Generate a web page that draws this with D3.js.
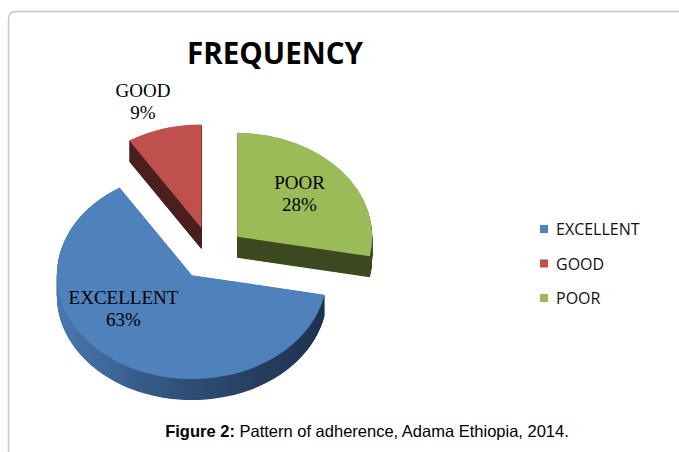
<!DOCTYPE html>
<html>
<head>
<meta charset="utf-8">
<script src="https://cdn.jsdelivr.net/npm/d3@7"></script>
<style>
  body { margin: 0; background: #fff; }
</style>
</head>
<body>
<svg width="679" height="452"></svg>
<script>
// chart data
let categories = ["EXCELLENT", "GOOD", "POOR"]
let percents = [63, 9, 28]
let topColors = ["#4f81bd", "#c0504d", "#9bbb59"]
let sideColors = ["url(#blueSide)", "#4b1f1e", "#3e4a22"]
let firstSliceAngle = 100.8   // degrees, Excel "angle of first slice"

let svg = d3.select("svg")

// frame of the figure box
svg.append("path")
  .attr("d", "M8.5,452 L8.5,19 Q8.5,11.5 16,11.5 L679,11.5")
  .attr("fill", "none")
  .attr("stroke", "#c6c6c6")
  .attr("stroke-width", 1.5)

let defs = svg.append("defs")
let grad = defs.append("linearGradient")
  .attr("id", "blueSide")
  .attr("gradientUnits", "userSpaceOnUse")
  .attr("x1", -135).attr("x2", 135).attr("y1", 0).attr("y2", 0)
grad.append("stop").attr("offset", "0%").attr("stop-color", "#4a77b0")
grad.append("stop").attr("offset", "45%").attr("stop-color", "#2f5079")
grad.append("stop").attr("offset", "100%").attr("stop-color", "#1c304d")

// pie geometry
let cx = 211, cy = 253.5
let rx = 135, tilt = 0.77, depth = 21, explode = 34

let data = categories.map((c, i) => ({name: c, value: percents[i], i: i}))
let start = firstSliceAngle * Math.PI / 180
let pie = d3.pie().sort(null).value(d => d.value)
  .startAngle(start).endAngle(start + 2 * Math.PI)
let arcs = pie(data)
let arc = d3.arc().innerRadius(0).outerRadius(rx)

// back slices first
let order = [1, 2, 0]
order.forEach((idx) => {
  let a = arcs[idx]
  let mid = (a.startAngle + a.endAngle) / 2
  let dx = Math.sin(mid) * explode
  let dy = -Math.cos(mid) * explode * tilt
  let g = svg.append("g")
    .attr("transform", "translate(" + (cx + dx) + "," + (cy + dy) + ")")

  // extruded side: stacked copies of the slice
  for (let t = depth; t > 0; t -= 0.5) {
    g.append("path")
      .attr("d", arc(a))
      .attr("transform", "translate(0," + t + ") scale(1," + tilt + ")")
      .attr("fill", sideColors[idx])
  }
  g.append("path")
    .attr("d", arc(a))
    .attr("transform", "scale(1," + tilt + ")")
    .attr("fill", topColors[idx])
})

// slice labels
let labelPos = {EXCELLENT: [123.5, 304], GOOD: [143, 97], POOR: [299.5, 189]}
arcs.forEach((a) => {
  let p = labelPos[a.data.name]
  let t = svg.append("text")
    .attr("text-anchor", "middle")
    .attr("font-family", "Liberation Serif, Times New Roman, serif")
    .attr("font-size", "19px")
    .attr("fill", "#000")
  t.append("tspan").attr("x", p[0]).attr("y", p[1]).text(a.data.name)
  t.append("tspan").attr("x", p[0]).attr("y", p[1] + 21.5).text(a.data.value + "%")
})

// title
svg.append("text")
  .attr("x", 187)
  .attr("y", 64)
  .attr("font-family", "Open Sans, sans-serif")
  .attr("font-weight", "bold")
  .attr("font-size", "31px")
  .attr("textLength", 176)
  .attr("lengthAdjust", "spacingAndGlyphs")
  .text("FREQUENCY")

// legend
let legend = svg.append("g").attr("transform", "translate(540,225)")
categories.forEach((c, i) => {
  legend.append("rect")
    .attr("x", 0).attr("y", i * 34.5)
    .attr("width", 8).attr("height", 8)
    .attr("fill", topColors[i])
  legend.append("text")
    .attr("x", 16).attr("y", i * 34.5 + 10)
    .attr("font-family", "Open Sans, sans-serif")
    .attr("font-size", "16px")
    .attr("fill", "#111")
    .text(c)
})

// caption
let cap = svg.append("text")
  .attr("x", 367)
  .attr("y", 437)
  .attr("text-anchor", "middle")
  .attr("font-family", "Liberation Sans, Arial, sans-serif")
  .attr("font-size", "16.5px")
  .attr("fill", "#000")
cap.append("tspan").attr("font-weight", "bold").text("Figure 2:")
cap.append("tspan").text(" Pattern of adherence, Adama Ethiopia, 2014.")
</script>
</body>
</html>
